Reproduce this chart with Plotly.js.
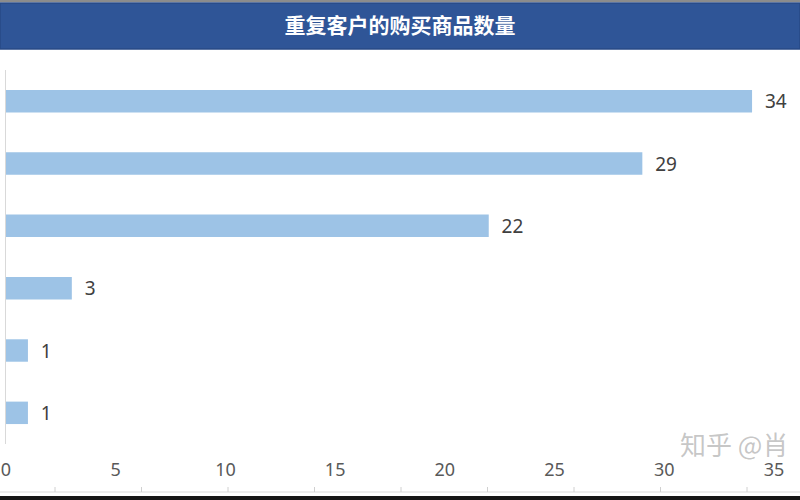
<!DOCTYPE html>
<html>
<head>
<meta charset="utf-8">
<script src="https://cdn.plot.ly/plotly-3.0.1.min.js"></script>
<style>
  html, body { margin: 0; padding: 0; background: #fff; }
  #chart { width: 800px; height: 500px; }
</style>
</head>
<body>
<div id="chart"></div>
<script>
// values, top bar first
const categories = ['A', 'B', 'C', 'D', 'E', 'F'];
const counts = [34, 29, 22, 3, 1, 1];
const xTicks = [0, 5, 10, 15, 20, 25, 30, 35];

const W = 800, H = 500;
const M = { l: 6, r: 26, t: 70, b: 56 };
const plotW = W - M.l - M.r;
const plotH = H - M.t - M.b;

// page pixels -> paper coords, for the frame decorations
const px = x => (x - M.l) / plotW;
const py = y => (H - M.b - y) / plotH;

const numFont = '"Noto Sans", sans-serif';

const shapes = [
  // grey rule along the very top
  { type: 'rect', xref: 'paper', yref: 'paper', x0: px(0), x1: px(W), y0: py(2), y1: py(0),
    fillcolor: '#8c8c8c', line: { width: 0 }, layer: 'below' },
  // blue title band
  { type: 'rect', xref: 'paper', yref: 'paper', x0: px(0), x1: px(W), y0: py(49), y1: py(3),
    fillcolor: '#2f5597', line: { color: '#284a86', width: 1.5 }, layer: 'below' },
  // cell border near the bottom
  { type: 'line', xref: 'paper', yref: 'paper', x0: px(0), x1: px(W), y0: py(492), y1: py(492),
    line: { color: '#d9d9d9', width: 1 } },
  { type: 'rect', xref: 'paper', yref: 'paper', x0: px(0), x1: px(W), y0: py(500), y1: py(496),
    fillcolor: '#151515', line: { width: 0 } }
];
for (let x = 55; x < W; x += 86.5) {
  shapes.push({ type: 'line', xref: 'paper', yref: 'paper', x0: px(x), x1: px(x), y0: py(492), y1: py(487),
    line: { color: '#d0d0d0', width: 1 } });
}

const trace = {
  type: 'bar',
  orientation: 'h',
  x: counts,
  y: categories,
  width: 0.36,
  marker: { color: '#9dc3e6', line: { width: 0 } },
  text: counts.map(v => '\u00a0\u00a0' + v),
  textposition: 'outside',
  constraintext: 'none',
  cliponaxis: false,
  textfont: { family: numFont, size: 19, color: '#404040' },
  hoverinfo: 'x'
};

const layout = {
  width: W,
  height: H,
  margin: M,
  paper_bgcolor: '#fff',
  plot_bgcolor: '#fff',
  showlegend: false,
  title: {
    text: '<b>重复客户的购买商品数量</b>',
    xref: 'container', x: 0.5, xanchor: 'center',
    yref: 'container', y: 1 - 26 / H, yanchor: 'middle',
    font: { family: '"Noto Sans CJK SC", sans-serif', size: 21, color: '#ffffff' }
  },
  xaxis: {
    range: [0, 35],
    tickvals: xTicks,
    ticks: '',
    showgrid: false,
    zeroline: false,
    showline: false,
    ticklabelstandoff: 13,
    tickfont: { family: numFont, size: 18, color: '#595959' }
  },
  yaxis: {
    type: 'category',
    autorange: 'reversed',
    showticklabels: false,
    ticks: '',
    showgrid: false,
    zeroline: false,
    showline: true,
    linecolor: '#d9d9d9',
    linewidth: 1
  },
  shapes: shapes,
  annotations: [{
    // faint site watermark, partly cut off at the right edge
    text: '知乎 @肖',
    xref: 'paper', yref: 'paper',
    x: px(678), y: py(443),
    xanchor: 'left', yanchor: 'middle',
    showarrow: false,
    font: { family: '"Noto Sans CJK SC", sans-serif', size: 26, color: 'rgba(150,150,150,0.55)' }
  }]
};

Plotly.newPlot('chart', [trace], layout, { displayModeBar: false, staticPlot: true });
</script>
</body>
</html>
